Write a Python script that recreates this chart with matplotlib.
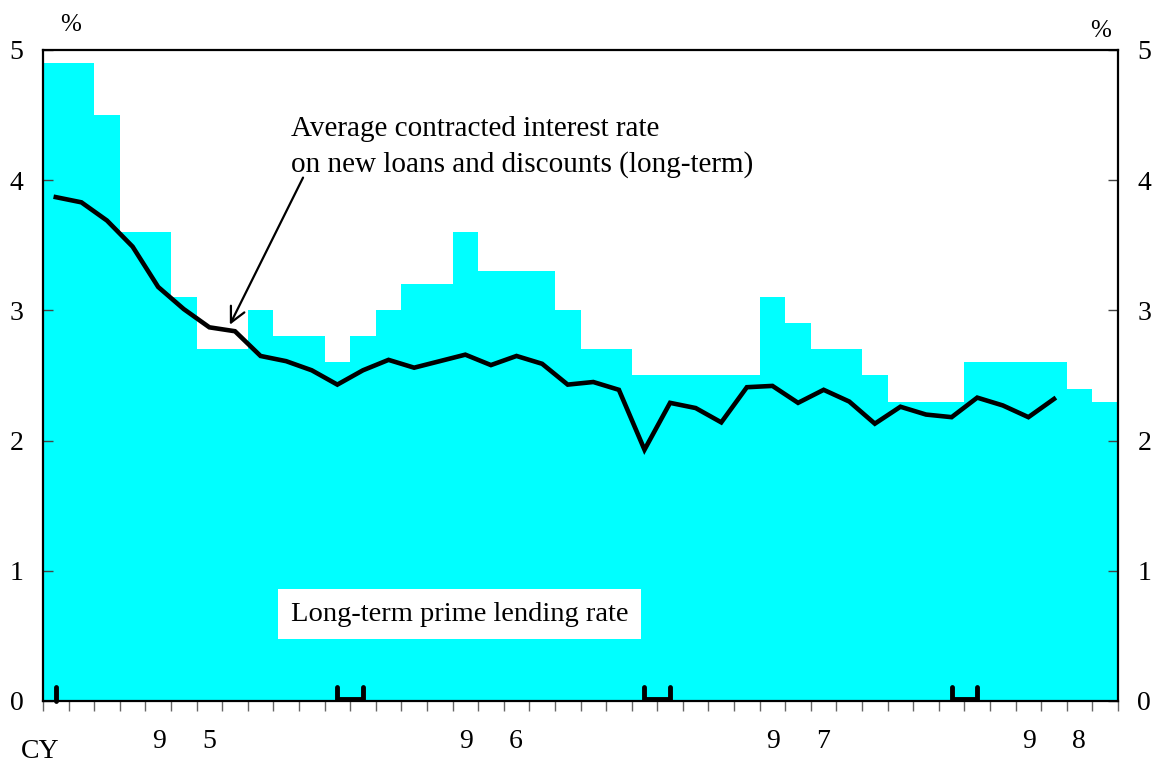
import matplotlib
matplotlib.use("Agg")
import matplotlib.pyplot as plt
import numpy as np

plt.rcParams['font.family'] = ['Liberation Serif', 'DejaVu Serif']

# Monthly data, Jan 1995 - Jun 1998
years = ["95", "96", "97", "98"]
year_label_pos = [5.5, 17.5, 29.5, 39.5]
prime_rate = [4.9, 4.9, 4.5, 3.6, 3.6, 3.1, 2.7, 2.7, 3.0, 2.8, 2.8, 2.6,
              2.8, 3.0, 3.2, 3.2, 3.6, 3.3, 3.3, 3.3, 3.0, 2.7, 2.7, 2.5,
              2.5, 2.5, 2.5, 2.5, 3.1, 2.9, 2.7, 2.7, 2.5, 2.3, 2.3, 2.3,
              2.6, 2.6, 2.6, 2.6, 2.4, 2.3]
contracted_rate = [3.87, 3.83, 3.69, 3.49, 3.18, 3.01, 2.87, 2.84, 2.65, 2.61,
                   2.54, 2.43, 2.54, 2.62, 2.56, 2.61, 2.66, 2.58, 2.65, 2.59,
                   2.43, 2.45, 2.39, 1.93, 2.29, 2.25, 2.14, 2.41, 2.42, 2.29,
                   2.39, 2.30, 2.13, 2.26, 2.20, 2.18, 2.33, 2.27, 2.18, 2.32]

n_months = len(prime_rate)
months = np.arange(n_months)
centers = months + 0.5

fig = plt.figure(figsize=(11.55, 7.67), dpi=100)
ax = fig.add_axes([43 / 1155, 66 / 767, 1075 / 1155, 651 / 767])

# Long-term prime rate as monthly steps
ax.bar(months, prime_rate, width=1.0, align='edge', color='#00FFFF',
       linewidth=0, zorder=1)

# Average contracted rate
ax.plot(centers[:len(contracted_rate)], contracted_rate, color='black',
        lw=3.3, solid_joinstyle='miter', zorder=3)

ax.set_xlim(0, n_months)
ax.set_ylim(0, 5)

# Year separators: bracket from December to January
mark_h = 0.105
ax.plot([centers[0], centers[0]], [0, mark_h], color='black', lw=3.5,
        solid_capstyle='round', zorder=4, clip_on=False)
for start in range(12, n_months, 12):
    xs = [centers[start - 1], centers[start - 1], centers[start], centers[start]]
    ys = [mark_h, 0.012, 0.012, mark_h]
    ax.plot(xs, ys, color='black', lw=3.5, solid_capstyle='round',
            solid_joinstyle='miter', zorder=4, clip_on=False)

# Axes styling
for s in ax.spines.values():
    s.set_linewidth(1.6)
    s.set_zorder(5)

ax.set_yticks(range(0, 6))
ax.tick_params(axis='y', which='both', direction='in', length=7, width=1,
               left=True, right=True, labelleft=True, labelright=True,
               labelsize=20, pad=14, color='#444444')
ax.set_xticks(np.arange(0, n_months + 1))
ax.set_xticklabels([])
ax.tick_params(axis='x', direction='out', length=7, width=1, color='#666666')

# Year labels
for yr, mid in zip(years, year_label_pos):
    ax.text(mid - 0.98, -0.31, yr[0], ha='center', va='center', fontsize=20)
    ax.text(mid + 0.98, -0.31, yr[1], ha='center', va='center', fontsize=20)

fig.text(40 / 1155, 1 - 752 / 767, "CY", ha='center', va='center', fontsize=20)
fig.text(71 / 1155, 1 - 25 / 767, "%", ha='center', va='center', fontsize=18)
fig.text(1101 / 1155, 1 - 31 / 767, "%", ha='center', va='center', fontsize=18)

# Annotation for the contracted rate
ax.text(9.69, 4.255,
        "Average contracted interest rate\non new loans and discounts (long-term)",
        fontsize=21, ha='left', va='center', linespacing=1.42)
ax.annotate("", xy=(7.3, 2.89), xytext=(10.16, 4.02),
            arrowprops=dict(arrowstyle='->', lw=1.6, color='black',
                            mutation_scale=27, shrinkA=0, shrinkB=0))

# Label for the prime rate
ax.text(9.69, 0.665, "Long-term prime lending rate", fontsize=20.5, ha='left',
        va='center', zorder=6,
        bbox=dict(facecolor='white', edgecolor='none', pad=9))

fig.savefig("out.png", dpi=100)
